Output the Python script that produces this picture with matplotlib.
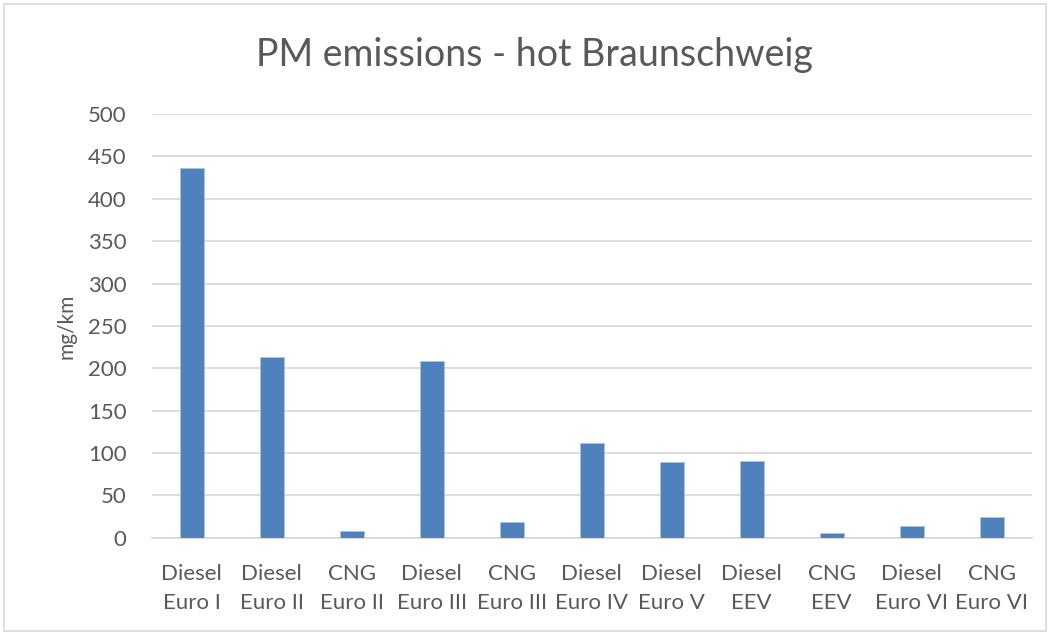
import matplotlib.pyplot as plt
from matplotlib.patches import Rectangle
import numpy as np

plt.rcParams["font.family"] = ["Lato", "DejaVu Sans"]

categories = [
    "Diesel\nEuro I", "Diesel\nEuro II", "CNG\nEuro II", "Diesel\nEuro III", "CNG\nEuro III",
    "Diesel\nEuro IV", "Diesel\nEuro V", "Diesel\nEEV", "CNG\nEEV", "Diesel\nEuro VI", "CNG\nEuro VI",
]
pm_mg_km = [436, 213, 8, 208, 18.5, 112, 89, 91, 5.5, 13.5, 24]
y_ticks = [0, 50, 100, 150, 200, 250, 300, 350, 400, 450, 500]

TEXT = "#595959"
GRID = "#d9d9d9"
BAR = "#4f81bd"

fig = plt.figure(figsize=(10.5, 6.34), dpi=100)
fig.patches.append(Rectangle((0.004, 0.004), 0.992, 0.99, transform=fig.transFigure,
                             fill=False, edgecolor=GRID, linewidth=1.2))
ax = fig.add_axes([0.1445, 0.152, 0.838, 0.668])

x = np.arange(len(categories))
ax.bar(x, pm_mg_km, width=0.3, color=BAR, edgecolor="#a9c4e6", linewidth=0.6, zorder=3)

ax.set_xlim(-0.5, len(categories) - 0.5)
ax.set_ylim(0, 500)
ax.set_yticks(y_ticks)
ax.set_xticks(x)
ax.set_xticklabels(categories, linespacing=1.55)
ax.grid(axis="y", color=GRID, linewidth=1.3, zorder=0)
for side in ("top", "right", "left"):
    ax.spines[side].set_visible(False)
ax.spines["bottom"].set_color(GRID)
ax.spines["bottom"].set_linewidth(1.3)
ax.tick_params(axis="both", length=0, colors=TEXT, labelsize=16)
ax.tick_params(axis="x", pad=19)
ax.tick_params(axis="y", pad=18)
ax.set_ylabel("mg/km", color=TEXT, fontsize=15, labelpad=8)
fig.text(0.509, 0.913, "PM emissions - hot Braunschweig", ha="center", va="center",
         color=TEXT, fontsize=27)

fig.savefig("out.png", dpi=100)
